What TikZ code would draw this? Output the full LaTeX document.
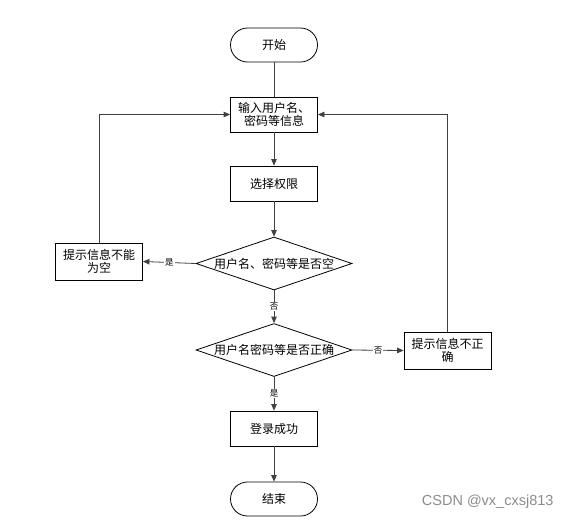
\documentclass[tikz,border=0pt]{standalone}
\usepackage{fontspec}
\newfontfamily\cjk{Noto Sans CJK SC}
\setsansfont{Liberation Sans}
\usetikzlibrary{shapes.geometric,arrows.meta}
\tikzset{
  box/.style={draw=black, line width=0.8pt, minimum width=87pt, minimum height=35pt, inner sep=0pt, align=center, font=\cjk\fontsize{12}{13.5}\selectfont},
  term/.style={box, rounded corners=17pt, minimum height=34pt},
  dec/.style={draw=black, line width=0.8pt, diamond, minimum width=156pt, minimum height=53pt, inner sep=0pt, font=\cjk\fontsize{12}{13.5}\selectfont},
  conn/.style={draw=black!75, line width=0.8pt, -{Triangle[length=6.5pt,width=5.5pt]}},
  plain/.style={draw=black!75, line width=0.8pt},
  lbl/.style={fill=white, inner sep=1pt, font=\cjk\fontsize{8.5}{10}\selectfont}
}
\begin{document}
\begin{tikzpicture}[x=1pt,y=-1pt]
\useasboundingbox[fill=white] (0,0) rectangle (570,520);
\node[term] (start) at (274,45) {开始};
\node[box] (input) at (274,114.5) {输入用户名、\\密码等信息};
\node[box] (select) at (274,183.5) {选择权限};
\node[dec] (d1) at (274,263.5) {\makebox[0pt]{用户名、密码等是否空}};
\node[box, minimum height=37pt] (empty) at (99,261.5) {提示信息不能\\为空};
\node[dec] (d2) at (274,350) {\makebox[0pt]{用户名密码等是否正确}};
\node[box, minimum height=37pt] (wrong) at (447.5,350.5) {提示信息不正\\确};
\node[box] (ok) at (274,428.5) {登录成功};
\node[term] (end) at (274,499) {结束};
\node[font=\sffamily\fontsize{14.5}{14.5}\selectfont, text=black!45, anchor=east] (wm) at (557,502) {CSDN @vx\_cxsj813};

\draw[plain] (start) -- (input);
\draw[conn] (input) -- (select);
\draw[conn] (select) -- (d1.north);
\draw[conn] (d1.west) -- node[lbl]{是} (empty.east);
\draw[conn] (d1.south) -- node[lbl]{否} (d2.north);
\draw[conn] (d2.east) -- node[lbl]{否} (wrong.west);
\draw[conn] (d2.south) -- node[lbl]{是} (ok.north);
\draw[conn] (ok) -- (end);
\draw[conn] (empty.north) |- (input.west);
\draw[conn] (wrong.north) |- (input.east);
\end{tikzpicture}
\end{document}
